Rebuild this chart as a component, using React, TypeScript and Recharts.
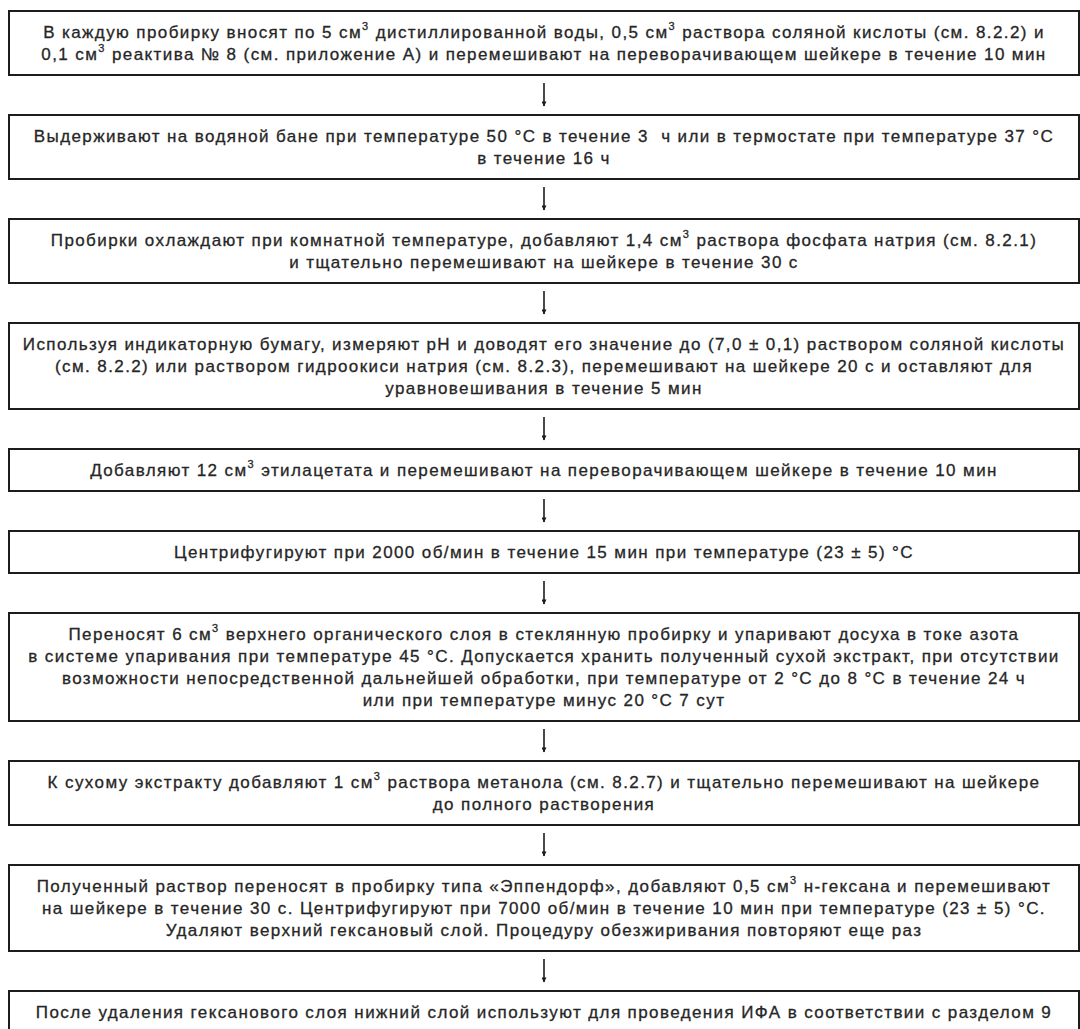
import React from 'react';
import { ComposedChart, XAxis, YAxis, ReferenceArea, ReferenceLine } from 'recharts';

// ---- data: flowchart steps (each step = lines of text) ----
const step1 = [
  'В каждую пробирку вносят по 5 см³ дистиллированной воды, 0,5 см³ раствора соляной кислоты (см. 8.2.2) и',
  '0,1 см³ реактива № 8 (см. приложение А) и перемешивают на переворачивающем шейкере в течение 10 мин',
];
const step2 = [
  'Выдерживают на водяной бане при температуре 50 °С в течение 3  ч или в термостате при температуре 37 °С',
  'в течение 16 ч',
];
const step3 = [
  'Пробирки охлаждают при комнатной температуре, добавляют 1,4 см³ раствора фосфата натрия (см. 8.2.1)',
  'и тщательно перемешивают на шейкере в течение 30 с',
];
const step4 = [
  'Используя индикаторную бумагу, измеряют pH и доводят его значение до (7,0 ± 0,1) раствором соляной кислоты',
  '(см. 8.2.2) или раствором гидроокиси натрия (см. 8.2.3), перемешивают на шейкере 20 с и оставляют для',
  'уравновешивания в течение 5 мин',
];
const step5 = ['Добавляют 12 см³ этилацетата и перемешивают на переворачивающем шейкере в течение 10 мин'];
const step6 = ['Центрифугируют при 2000 об/мин в течение 15 мин при температуре (23 ± 5) °С'];
const step7 = [
  'Переносят 6 см³ верхнего органического слоя в стеклянную пробирку и упаривают досуха в токе азота',
  'в системе упаривания при температуре 45 °С. Допускается хранить полученный сухой экстракт, при отсутствии',
  'возможности непосредственной дальнейшей обработки, при температуре от 2 °С до 8 °С в течение 24 ч',
  'или при температуре минус 20 °С 7 сут',
];
const step8 = [
  'К сухому экстракту добавляют 1 см³ раствора метанола (см. 8.2.7) и тщательно перемешивают на шейкере',
  'до полного растворения',
];
const step9 = [
  'Полученный раствор переносят в пробирку типа «Эппендорф», добавляют 0,5 см³ н-гексана и перемешивают',
  'на шейкере в течение 30 с. Центрифугируют при 7000 об/мин в течение 10 мин при температуре (23 ± 5) °С.',
  'Удаляют верхний гексановый слой. Процедуру обезжиривания повторяют еще раз',
];
const step10 = ['После удаления гексанового слоя нижний слой используют для проведения ИФА в соответствии с разделом 9'];

const steps: string[][] = [step1, step2, step3, step4, step5, step6, step7, step8, step9, step10];

// ---- layout / style ----
const W = 1080;
const H = 1029;
const BOX_LEFT = 9;
const BOX_RIGHT = 1079;
const CX = (BOX_LEFT + BOX_RIGHT) / 2;
const TOP = 11;
const LINE = 22;
const PAD = 20;
const GAP = 40;
const ARROW_TOP_PAD = 8;
const ARROW_BOTTOM_PAD = 9;
const INK = '#1c1c1c';
const TEXT = '#262626';
const FONT = "'Liberation Sans', Arial, sans-serif";
const FONT_SIZE = 17;
const LETTER_SPACING = 1.4;

type Box = { lines: string[]; top: number; bottom: number };
const boxes: Box[] = [];
{
  let y = TOP;
  for (const lines of steps) {
    const h = PAD + LINE * lines.length;
    boxes.push({ lines, top: y, bottom: y + h });
    y += h + GAP;
  }
}

function renderLine(line: string, key: number, x: number, y: number) {
  const parts = line.split('³');
  const children: React.ReactNode[] = [];
  parts.forEach((p, i) => {
    if (i > 0) {
      children.push(
        <tspan key={`s${i}`} dy={-8} fontSize={11}>
          3
        </tspan>
      );
      children.push(
        <tspan key={`p${i}`} dy={8}>
          {p}
        </tspan>
      );
    } else {
      children.push(<tspan key={`p${i}`}>{p}</tspan>);
    }
  });
  return (
    <text
      key={key}
      x={x}
      y={y}
      textAnchor="middle"
      fontFamily={FONT}
      fontSize={FONT_SIZE}
      fill={TEXT}
      stroke={TEXT}
      strokeWidth={0.3}
      style={{ letterSpacing: LETTER_SPACING, whiteSpace: 'pre' }}
    >
      {children}
    </text>
  );
}

const makeLabel = (lines: string[]) => (props: any) => {
  const vb = props.viewBox || props;
  const cx = vb.x + vb.width / 2;
  const cy = vb.y + vb.height / 2;
  const n = lines.length;
  return (
    <g>
      {lines.map((l, i) => renderLine(l, i, cx, cy + (i - (n - 1) / 2) * LINE + 6))}
    </g>
  );
};

const arrowShape = (p: any) => (
  <line
    x1={p.x1}
    y1={p.y1}
    x2={p.x2}
    y2={p.y2}
    stroke={INK}
    strokeWidth={1.6}
    markerEnd="url(#flowArrowHead)"
  />
);

export default function App() {
  return (
    <div
      style={{
        position: 'absolute',
        left: 0,
        top: 0,
        width: W,
        height: H,
        background: '#fff',
        overflow: 'hidden',
      }}
    >
      <svg width={0} height={0} style={{ position: 'absolute' }}>
        <defs>
          <marker
            id="flowArrowHead"
            viewBox="0 0 10 10"
            refX={9}
            refY={5}
            markerWidth={6}
            markerHeight={5}
            markerUnits="userSpaceOnUse"
            orient="auto"
          >
            <path d="M0,0 L10,5 L0,10 z" fill={INK} />
          </marker>
        </defs>
      </svg>
      <ComposedChart width={W} height={H} margin={{ top: 0, right: 0, bottom: 0, left: 0 }} data={boxes}>
        <XAxis type="number" dataKey="top" domain={[0, W]} hide allowDataOverflow />
        <YAxis type="number" domain={[0, H]} reversed hide allowDataOverflow />
        {boxes.map((b, i) => (
          <ReferenceArea
            key={`box${i}`}
            x1={BOX_LEFT}
            x2={BOX_RIGHT}
            y1={b.top}
            y2={b.bottom}
            fill="#fff"
            fillOpacity={1}
            stroke={INK}
            strokeWidth={2}
            ifOverflow="visible"
            label={makeLabel(b.lines)}
          />
        ))}
        {boxes.slice(0, -1).map((b, i) => (
          <ReferenceLine
            key={`arrow${i}`}
            segment={[
              { x: CX, y: b.bottom + ARROW_TOP_PAD },
              { x: CX, y: boxes[i + 1].top - ARROW_BOTTOM_PAD },
            ]}
            ifOverflow="visible"
            shape={arrowShape}
          />
        ))}
      </ComposedChart>
    </div>
  );
}
